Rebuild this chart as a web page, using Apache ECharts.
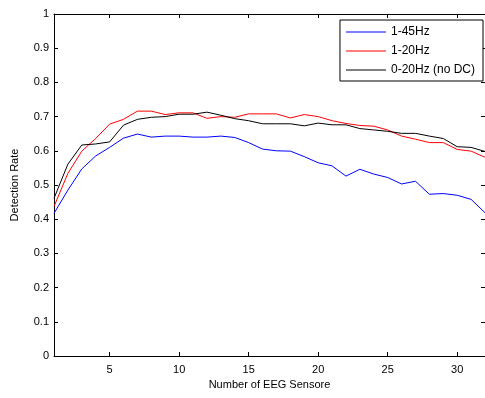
<!DOCTYPE html>
<html>
<head>
<meta charset="utf-8">
<script src="https://cdn.jsdelivr.net/npm/echarts@6/dist/echarts.min.js"></script>
<style>
html, body { margin: 0; padding: 0; background: #fff; }
#chart { width: 485px; height: 398px; }
</style>
</head>
<body>
<div id="chart"></div>
<script>
var sensors = [];
for (var i = 1; i <= 32; i++) sensors.push(i);

var hz1_45 = [0.417, 0.485, 0.547, 0.585, 0.610, 0.637, 0.649, 0.640, 0.643, 0.643,
              0.640, 0.640, 0.643, 0.639, 0.624, 0.605, 0.600, 0.599, 0.583, 0.565,
              0.556, 0.526, 0.546, 0.532, 0.522, 0.503, 0.511, 0.473, 0.475, 0.470,
              0.458, 0.419];
var hz1_20 = [0.437, 0.534, 0.599, 0.636, 0.678, 0.692, 0.716, 0.716, 0.706, 0.711,
              0.711, 0.695, 0.700, 0.698, 0.708, 0.708, 0.708, 0.696, 0.706, 0.700,
              0.688, 0.680, 0.674, 0.672, 0.661, 0.643, 0.634, 0.624, 0.624, 0.604,
              0.599, 0.581];
var hz0_20 = [0.461, 0.561, 0.617, 0.620, 0.626, 0.675, 0.692, 0.698, 0.700, 0.707,
              0.707, 0.713, 0.704, 0.694, 0.688, 0.679, 0.679, 0.679, 0.673, 0.681,
              0.676, 0.676, 0.665, 0.661, 0.657, 0.651, 0.651, 0.643, 0.636, 0.612,
              0.610, 0.598];

var names = ['1-45Hz', '1-20Hz', '0-20Hz (no DC)'];
var colors = ['#0000ff', '#ff0000', '#000000'];
var xTicks = [5, 10, 15, 20, 25, 30];

function pairs(arr) {
  return arr.map(function (v, i) { return [sensors[i], v]; });
}

var font = 'Liberation Sans, Arial, sans-serif';
var chart = echarts.init(document.getElementById('chart'));

var tickStyle = { inside: true, length: 4, lineStyle: { color: '#000', width: 1 } };

chart.setOption({
  animation: false,
  textStyle: { fontFamily: font },
  grid: { left: 54, right: -3, top: 14, bottom: 42 },
  legend: {
    orient: 'vertical',
    right: 2,
    top: 20,
    data: names,
    icon: 'rect',
    itemWidth: 40,
    itemHeight: 1,
    itemGap: 5,
    padding: [5, 8, 4, 6],
    borderColor: '#000',
    borderWidth: 1,
    backgroundColor: '#fff',
    textStyle: { fontSize: 12, lineHeight: 14, color: '#000', fontFamily: font }
  },
  xAxis: [{
    type: 'value',
    min: 1, max: 32,
    name: 'Number of EEG Sensore',
    nameLocation: 'middle',
    nameGap: 22,
    nameTextStyle: { fontSize: 11, color: '#000' },
    axisLine: { show: true, lineStyle: { color: '#000', width: 1 } },
    axisTick: Object.assign({ customValues: xTicks }, tickStyle),
    axisLabel: { fontSize: 11, color: '#000', margin: 8, customValues: xTicks },
    splitLine: { show: false }
  }, {
    type: 'value',
    position: 'top',
    min: 1, max: 32,
    axisLine: { show: true, onZero: false, lineStyle: { color: '#000', width: 1 } },
    axisTick: Object.assign({ customValues: xTicks }, tickStyle),
    axisLabel: { show: false },
    splitLine: { show: false }
  }],
  yAxis: [{
    type: 'value',
    min: 0, max: 1,
    interval: 0.1,
    name: 'Detection Rate',
    nameLocation: 'middle',
    nameGap: 34,
    nameTextStyle: { fontSize: 11, color: '#000' },
    axisLine: { show: true, lineStyle: { color: '#000', width: 1 } },
    axisTick: tickStyle,
    axisLabel: {
      fontSize: 11, color: '#000', margin: 5,
      formatter: function (v) { return String(Math.round(v * 10) / 10); }
    },
    splitLine: { show: false }
  }, {
    type: 'value',
    position: 'right',
    min: 0, max: 1,
    interval: 0.1,
    axisLine: { show: true, onZero: false, lineStyle: { color: '#000', width: 1 } },
    axisTick: tickStyle,
    axisLabel: { show: false },
    splitLine: { show: false }
  }],
  series: names.map(function (n, k) {
    return {
      name: n,
      type: 'line',
      data: pairs([hz1_45, hz1_20, hz0_20][k]),
      symbol: 'none',
      lineStyle: { color: colors[k], width: 1 },
      itemStyle: { color: colors[k] }
    };
  })
});
</script>
</body>
</html>
